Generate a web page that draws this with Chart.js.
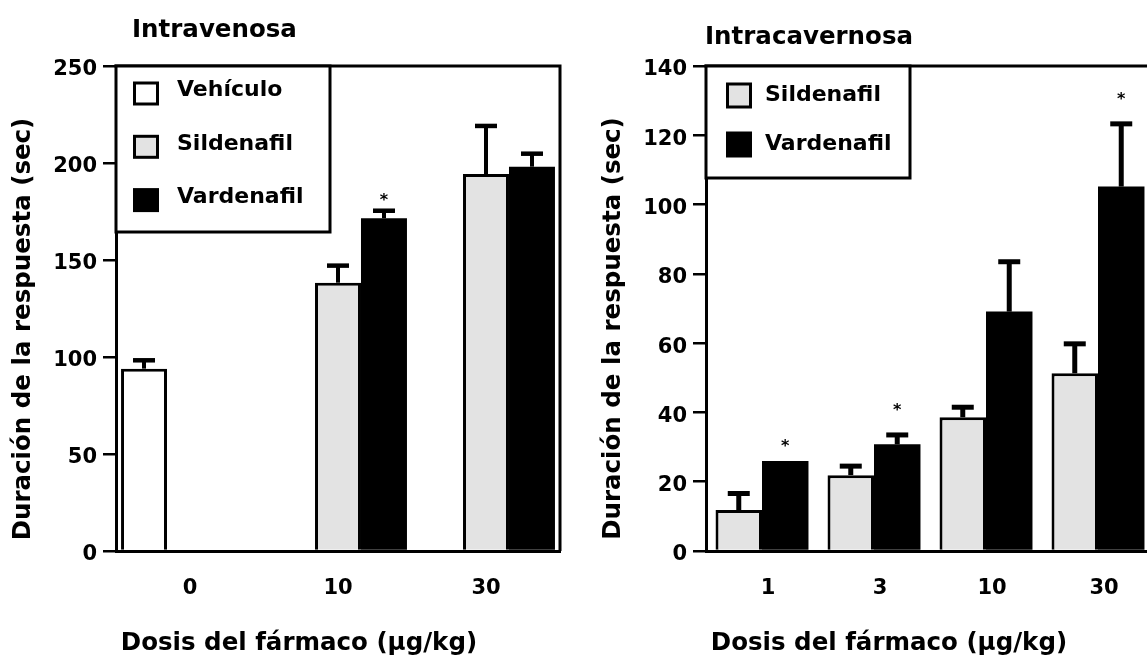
<!DOCTYPE html>
<html><head><meta charset="utf-8">
<script src="https://cdn.jsdelivr.net/npm/chart.js@4.4.0/dist/chart.umd.min.js"></script>
<style>
html,body{margin:0;padding:0;background:#fff;overflow:hidden;width:1147px;height:658px;}
#p1{position:absolute;left:0;top:0;width:580px;height:658px;}
#p2{position:absolute;left:580px;top:0;width:600px;height:658px;}
</style></head><body>
<div id="p1"><canvas id="c1" width="580" height="658"></canvas></div>
<div id="p2"><canvas id="c2" width="600" height="658"></canvas></div>
<script>
// ---------- Data: Intravenosa ----------
const ivCategories = ['0', '10', '30'];
const ivVehiculo = [94, null, null];
const ivSildenafil = [null, 138.3, 194.3];
const ivVardenafil = [null, 171.5, 198.1];
const ivVehiculoErr = [4.3, null, null];
const ivSildenafilErr = [null, 8.8, 24.8];
const ivVardenafilErr = [null, 3.9, 6.7];
const ivVardenafilStar = [null, 182.5, null];
const ivTicks = [0, 50, 100, 150, 200, 250];

// ---------- Data: Intracavernosa ----------
const icCategories = ['1', '3', '10', '30'];
const icSildenafil = [11.8, 21.9, 38.6, 51.3];
const icVardenafil = [26.0, 30.8, 69.1, 105.2];
const icSildenafilErr = [4.8, 2.6, 2.9, 8.5];
const icVardenafilErr = [0, 2.7, 14.4, 18.1];
const icVardenafilStar = [31.2, 41.5, null, 131.4];
const icTicks = [0, 20, 40, 60, 80, 100, 120, 140];

const xTitle = 'Dosis del fármaco (µg/kg)';
const yTitle = 'Duración de la respuesta (sec)';

const BLACK = '#000000', GREY = '#e3e3e3', WHITE = '#ffffff';
const FONT = "'DejaVu Sans', sans-serif";
Chart.defaults.font.family = FONT;
Chart.defaults.color = BLACK;

function decorPlugin(cfg) {
  return {
    id: 'decor',
    afterDatasetsDraw(chart) {
      const ctx = chart.ctx, ys = chart.scales.y;
      chart.data.datasets.forEach((ds, i) => {
        const meta = chart.getDatasetMeta(i);
        meta.data.forEach((bar, j) => {
          const v = ds.data[j];
          if (v == null) return;
          ctx.save();
          ctx.strokeStyle = BLACK; ctx.fillStyle = BLACK; ctx.lineCap = 'butt';
          const e = ds.errors ? ds.errors[j] : null;
          if (e) {
            const yt = ys.getPixelForValue(v + e);
            ctx.lineWidth = cfg.errLine;
            ctx.beginPath(); ctx.moveTo(bar.x, bar.y); ctx.lineTo(bar.x, yt); ctx.stroke();
            ctx.lineWidth = cfg.capLine;
            ctx.beginPath(); ctx.moveTo(bar.x - cfg.capHalf, yt); ctx.lineTo(bar.x + cfg.capHalf, yt); ctx.stroke();
          }
          const s = ds.stars ? ds.stars[j] : null;
          if (s != null) {
            const sy = ys.getPixelForValue(s);
            ctx.font = 'bold 16px ' + FONT;
            ctx.textAlign = 'center'; ctx.textBaseline = 'alphabetic';
            const m = ctx.measureText('*');
            const base = sy + (m.actualBoundingBoxAscent - m.actualBoundingBoxDescent) / 2;
            ctx.fillText('*', bar.x, base);
          }
          ctx.restore();
        });
      });
    },
    afterDraw(chart) {
      const ctx = chart.ctx, a = chart.chartArea;
      ctx.save();
      // frame (top and right)
      ctx.strokeStyle = BLACK; ctx.lineWidth = 3;
      ctx.beginPath();
      ctx.moveTo(a.left - 1.5, a.top); ctx.lineTo(a.right, a.top); ctx.lineTo(a.right, a.bottom);
      ctx.stroke();
      // legend
      const L = cfg.legend;
      ctx.fillStyle = WHITE; ctx.fillRect(a.left, a.top, L.x1 - a.left, L.y1 - a.top);
      ctx.strokeRect(a.left, a.top, L.x1 - a.left, L.y1 - a.top);
      chart.data.datasets.forEach((ds, k) => {
        const cy = L.firstY + k * L.step;
        ctx.fillStyle = BLACK;
        ctx.fillRect(L.sqX, cy - L.sqH / 2, L.sqW, L.sqH);
        ctx.fillStyle = ds.backgroundColor;
        ctx.fillRect(L.sqX + 3, cy - L.sqH / 2 + 3, L.sqW - 6, L.sqH - 6);
        ctx.fillStyle = BLACK;
        ctx.font = 'bold 22px ' + FONT;
        ctx.textAlign = 'left'; ctx.textBaseline = 'middle';
        ctx.fillText(ds.label, L.textX, cy + L.textDy);
      });
      // panel title
      ctx.fillStyle = BLACK;
      ctx.font = 'bold 24.5px ' + FONT;
      ctx.textAlign = 'left'; ctx.textBaseline = 'alphabetic';
      ctx.fillText(cfg.title, cfg.titleX, cfg.titleY);
      // x title
      ctx.textAlign = 'center';
      ctx.fillText(xTitle, cfg.xTitleX, cfg.xTitleY);
      // y title
      ctx.save();
      ctx.translate(cfg.yTitleX, cfg.yTitleY);
      ctx.rotate(-Math.PI / 2);
      ctx.fillText(yTitle, 0, 0);
      ctx.restore();
      ctx.restore();
    }
  };
}

function makeChart(id, s) {
  return new Chart(document.getElementById(id), {
    type: 'bar',
    data: { labels: s.categories, datasets: s.datasets },
    options: {
      responsive: false, animation: false, devicePixelRatio: 1,
      layout: { padding: { top: 66, right: s.padRight, bottom: 0, left: 0 } },
      plugins: { legend: { display: false }, tooltip: { enabled: false } },
      scales: {
        x: {
          offset: true,
          grid: { display: false, drawTicks: false },
          border: { display: true, width: 3, color: BLACK },
          ticks: { padding: 25, labelOffset: s.xLabelOffset, maxRotation: 0, autoSkip: false,
                   color: BLACK, font: { size: 21, weight: 'bold' } },
          afterFit: sc => { sc.height = 107; }
        },
        y: {
          min: 0, max: s.ticks[s.ticks.length - 1],
          grid: { drawOnChartArea: false, drawTicks: true, tickLength: 13, lineWidth: 2.5, color: BLACK },
          border: { display: true, width: 3, color: BLACK },
          ticks: { padding: 6, labelOffset: 4, color: BLACK, font: { size: 21, weight: 'bold' } },
          afterBuildTicks: sc => { sc.ticks = s.ticks.map(v => ({ value: v })); },
          afterFit: sc => { sc.width = s.yWidth; }
        }
      }
    },
    plugins: [decorPlugin(s.decor)]
  });
}

function barDs(label, data, color, errors, stars, pct) {
  return { label, data, backgroundColor: color, borderColor: BLACK,
           borderWidth: color === BLACK ? 0 : 3, inflateAmount: 0,
           categoryPercentage: pct, barPercentage: 1, errors, stars };
}

makeChart('c1', {
  categories: ivCategories,
  ticks: ivTicks,
  padRight: 20, yWidth: 116, xLabelOffset: 0,
  datasets: [
    barDs('Vehículo', ivVehiculo, WHITE, ivVehiculoErr, null, 0.932),
    barDs('Sildenafil', ivSildenafil, GREY, ivSildenafilErr, null, 0.932),
    barDs('Vardenafil', ivVardenafil, BLACK, ivVardenafilErr, ivVardenafilStar, 0.932)
  ],
  decor: {
    title: 'Intravenosa', titleX: 132, titleY: 37,
    xTitleX: 299, xTitleY: 650, yTitleX: 30, yTitleY: 329,
    errLine: 4, capLine: 4.5, capHalf: 11,
    legend: { x1: 330, y1: 232, sqX: 133, sqW: 26, sqH: 24, firstY: 93.5, step: 53.3, textX: 177, textDy: -3 }
  }
});

makeChart('c2', {
  categories: icCategories,
  ticks: icTicks,
  padRight: 26, yWidth: 126, xLabelOffset: 6,
  datasets: [
    barDs('Sildenafil', icSildenafil, GREY, icSildenafilErr, null, 0.83),
    barDs('Vardenafil', icVardenafil, BLACK, icVardenafilErr, icVardenafilStar, 0.83)
  ],
  decor: {
    title: 'Intracavernosa', titleX: 125, titleY: 44,
    xTitleX: 309, xTitleY: 650, yTitleX: 40, yTitleY: 328.5,
    errLine: 5, capLine: 5, capHalf: 11,
    legend: { x1: 330, y1: 178, sqX: 146, sqW: 26, sqH: 26, firstY: 95.5, step: 49, textX: 185, textDy: -0.5 }
  }
});
</script>
</body></html>
